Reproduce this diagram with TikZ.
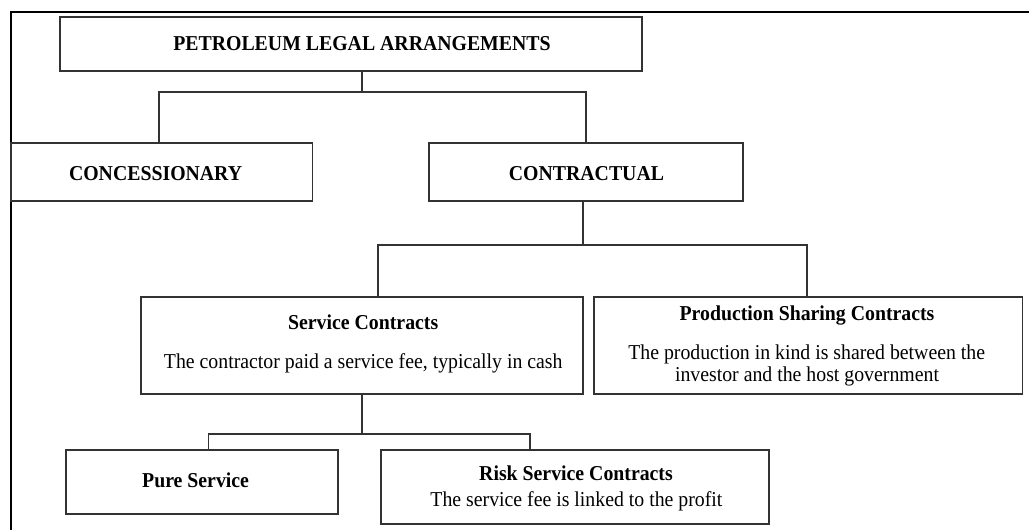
\documentclass[tikz,border=0pt]{standalone}
\usepackage{fontspec}
\usepackage{graphicx}
\setmainfont{Liberation Serif}
% slightly taller lettering
\newcommand{\tall}[1]{\scalebox{1}[1.07]{#1}}
\begin{document}
\begin{tikzpicture}[x=1pt,y=-1pt,
  box/.style={draw=black!80,line width=1.3pt,rectangle,inner sep=0pt},
  txt/.style={anchor=base,inner sep=0pt,font=\fontsize{19.8}{22.7}\selectfont},
  bold/.style={txt,font=\fontsize{19.8}{22.7}\selectfont\bfseries},
  conn/.style={draw=black!80,line width=1.3pt}]
\useasboundingbox (0,0) rectangle (1029,530);

% outer frame (only the top and left sides fall inside the page)
\draw[line width=2pt] (11,531) -- (11,12) -- (1030,12);

% boxes
\node[box,minimum width=582pt,minimum height=54pt] (top)  at (351,44) {};
\node[box,minimum width=301.6pt,minimum height=58pt] (conc) at (161.8,172) {};
\node[box,minimum width=314pt,minimum height=58pt] (contr) at (586,172) {};
\node[box,minimum width=442pt,minimum height=97pt] (svc)  at (362,345.5) {};
\node[box,minimum width=428.5pt,minimum height=97pt] (psc) at (808.25,345.5) {};
\node[box,minimum width=272pt,minimum height=64pt] (pure) at (202,482) {};
\node[box,minimum width=388pt,minimum height=74pt] (risk) at (575,487) {};

% texts
\node[bold] (topT) at (362,50) {\tall{PETROLEUM LEGAL ARRANGEMENTS}};
\node[bold] (concT) at (155.6,180) {\tall{CONCESSIONARY}};
\node[bold] (contrT) at (586.5,180) {\tall{CONTRACTUAL}};
\node[bold] (svcT) at (363.2,329) {\tall{Service Contracts}};
\node[txt] (svcD) at (363.2,368) {\tall{The contractor paid a service fee, typically in cash}};
\node[bold] (pscT) at (807,320) {\tall{Production Sharing Contracts}};
\node[txt] (pscD1) at (806.7,359) {\tall{The production in kind is shared between the}};
\node[txt] (pscD2) at (807,381.7) {\tall{investor and the host government}};
\node[bold] (pureT) at (195.6,487) {\tall{Pure Service}};
\node[bold] (riskT) at (576,480) {\tall{Risk Service Contracts}};
\node[txt] (riskD) at (576.4,506) {\tall{The service fee is linked to the profit}};

% junction points
\coordinate (j1) at (362,92);
\coordinate (a1) at (159,92);
\coordinate (a2) at (586,92);
\coordinate (j2) at (583,245);
\coordinate (b1) at (378,245);
\coordinate (b2) at (807,245);
\coordinate (j3) at (362,434);
\coordinate (c1) at (208.6,434);
\coordinate (c2) at (530,434);

% connectors
\draw[conn] (top.south -| j1) -- (j1);
\draw[conn] (conc.north -| a1) -- (a1) -- (a2) -- (contr.north -| a2);
\draw[conn] (contr.south -| j2) -- (j2);
\draw[conn] (svc.north -| b1) -- (b1) -- (b2) -- (psc.north -| b2);
\draw[conn] (svc.south -| j3) -- (j3);
\draw[conn] (pure.north -| c1) -- (c1) -- (c2) -- (risk.north -| c2);
\end{tikzpicture}
\end{document}
